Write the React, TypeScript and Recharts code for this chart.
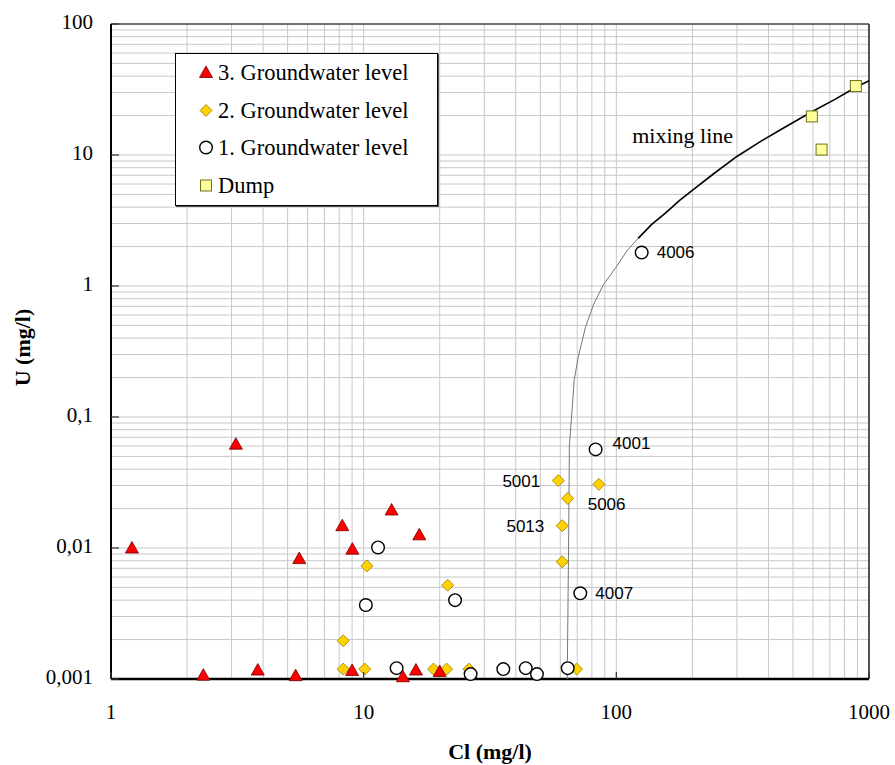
import React from "react";
import {
  ScatterChart,
  Scatter,
  XAxis,
  YAxis,
  CartesianGrid,
  ReferenceLine,
  Label,
} from "recharts";

const serif = "'Liberation Serif', 'Times New Roman', serif";
const sans = "'Liberation Sans', Arial, sans-serif";

// axis ticks (log decades + minor grid values)
const xTicks = [
  1, 2, 3, 4, 5, 6, 7, 8, 9, 10, 20, 30, 40, 50, 60, 70, 80, 90, 100, 200,
  300, 400, 500, 600, 700, 800, 900, 1000,
];
const xMajor = [1, 10, 100, 1000];
const xMajorLabels = ["1", "10", "100", "1000"];

const yTicks = [
  0.001, 0.002, 0.003, 0.004, 0.005, 0.006, 0.007, 0.008, 0.009, 0.01, 0.02,
  0.03, 0.04, 0.05, 0.06, 0.07, 0.08, 0.09, 0.1, 0.2, 0.3, 0.4, 0.5, 0.6, 0.7,
  0.8, 0.9, 1, 2, 3, 4, 5, 6, 7, 8, 9, 10, 20, 30, 40, 50, 60, 70, 80, 90, 100,
];
const yMajor = [0.001, 0.01, 0.1, 1, 10, 100];
const yMajorLabels = ["0,001", "0,01", "0,1", "1", "10", "100"];

// 3. Groundwater level
const level3 = [
  { cl: 1.21, u: 0.01 },
  { cl: 3.12, u: 0.062 },
  { cl: 5.56, u: 0.0083 },
  { cl: 8.23, u: 0.0148 },
  { cl: 9.02, u: 0.0098 },
  { cl: 12.9, u: 0.0195 },
  { cl: 16.6, u: 0.0126 },
  { cl: 2.32, u: 0.00107 },
  { cl: 3.81, u: 0.00117 },
  { cl: 5.38, u: 0.00106 },
  { cl: 9.0, u: 0.00116 },
  { cl: 14.3, u: 0.00104 },
  { cl: 16.1, u: 0.00117 },
  { cl: 20.0, u: 0.00114 },
];

// 2. Groundwater level
const level2 = [
  { cl: 10.3, u: 0.0073 },
  { cl: 21.5, u: 0.0052 },
  { cl: 8.3, u: 0.00196 },
  { cl: 8.3, u: 0.00119 },
  { cl: 10.1, u: 0.00119 },
  { cl: 18.9, u: 0.00119 },
  { cl: 21.3, u: 0.00119 },
  { cl: 26.1, u: 0.00119 },
  { cl: 58.9, u: 0.0327 },
  { cl: 85.3, u: 0.0306 },
  { cl: 64.2, u: 0.0239 },
  { cl: 61.1, u: 0.0148 },
  { cl: 61.1, u: 0.00785 },
  { cl: 69.6, u: 0.00119 },
];

// 1. Groundwater level
const level1 = [
  { cl: 11.4, u: 0.0101 },
  { cl: 10.2, u: 0.00367 },
  { cl: 23.0, u: 0.004 },
  { cl: 13.5, u: 0.00121 },
  { cl: 26.5, u: 0.00109 },
  { cl: 82.8, u: 0.0566 },
  { cl: 72.0, u: 0.00451 },
  { cl: 35.7, u: 0.00119 },
  { cl: 43.8, u: 0.00121 },
  { cl: 48.5, u: 0.00109 },
  { cl: 64.2, u: 0.00121 },
  { cl: 126, u: 1.8 },
];

const dump = [
  { cl: 887, u: 33.6 },
  { cl: 594, u: 19.7 },
  { cl: 649, u: 11.0 },
];

// mixing line
const mixingLower = [
  { cl: 63.9, u: 0.001 },
  { cl: 64.3, u: 0.003 },
  { cl: 64.7, u: 0.0097 },
  { cl: 65.2, u: 0.061 },
  { cl: 66.5, u: 0.1 },
  { cl: 68.1, u: 0.191 },
  { cl: 70.7, u: 0.288 },
  { cl: 75.6, u: 0.489 },
  { cl: 81.1, u: 0.716 },
  { cl: 88.8, u: 1.02 },
  { cl: 100, u: 1.4 },
  { cl: 110, u: 1.85 },
  { cl: 122, u: 2.31 },
];
const mixingUpper = [
  { cl: 122, u: 2.31 },
  { cl: 138, u: 2.95 },
  { cl: 156, u: 3.59 },
  { cl: 178, u: 4.5 },
  { cl: 201, u: 5.41 },
  { cl: 242, u: 7.16 },
  { cl: 299, u: 9.7 },
  { cl: 370, u: 12.6 },
  { cl: 457, u: 16.0 },
  { cl: 594, u: 21.4 },
  { cl: 733, u: 26.6 },
  { cl: 887, u: 32.9 },
  { cl: 1000, u: 36.9 },
];

const wellLabels = [
  { cl: 126, u: 1.8, text: "4006", side: "right" },
  { cl: 82.8, u: 0.0566, text: "4001", side: "upperRight" },
  { cl: 72.0, u: 0.00451, text: "4007", side: "right" },
  { cl: 58.9, u: 0.0327, text: "5001", side: "left" },
  { cl: 61.1, u: 0.0148, text: "5013", side: "left" },
  { cl: 64.2, u: 0.0239, text: "5006", side: "lowerRight" },
];
const mixingLabel = [{ cl: 183, u: 14.2, text: "mixing line" }];

const labelOffsets: Record<string, [number, number, string]> = {
  right: [15, 0, "start"],
  upperRight: [17, -6, "start"],
  lowerRight: [20, 6, "start"],
  left: [-18, 1, "end"],
};

const Triangle = ({ cx, cy }: any) =>
  cx == null ? <g /> : (
    <polygon
      points={`${cx},${cy - 6.5} ${cx + 6.5},${cy + 5} ${cx - 6.5},${cy + 5}`}
      fill="#ff0000"
      stroke="#6e0000"
      strokeWidth={0.8}
    />
  );

const Diamond = ({ cx, cy }: any) =>
  cx == null ? <g /> : (
    <polygon
      points={`${cx},${cy - 6} ${cx + 6},${cy} ${cx},${cy + 6} ${cx - 6},${cy}`}
      fill="#ffd200"
      stroke="#9a7800"
      strokeWidth={0.8}
    />
  );

const Ring = ({ cx, cy }: any) =>
  cx == null ? <g /> : (
    <circle cx={cx} cy={cy} r={6.3} fill="#fff" stroke="#000" strokeWidth={1.4} />
  );

const Square = ({ cx, cy }: any) =>
  cx == null ? <g /> : (
    <rect
      x={cx - 5.5}
      y={cy - 5.5}
      width={11}
      height={11}
      fill="#ffff99"
      stroke="#6e6e1e"
      strokeWidth={1}
    />
  );

const WellLabel = ({ cx, cy, payload }: any) => {
  if (cx == null) return <g />;
  const [dx, dy, anchor] = labelOffsets[payload.side];
  return (
    <text
      x={cx + dx}
      y={cy + dy}
      textAnchor={anchor as any}
      dominantBaseline="central"
      fontFamily={sans}
      fontSize={17}
      fill="#000"
    >
      {payload.text}
    </text>
  );
};

const MixingText = ({ cx, cy, payload }: any) =>
  cx == null ? <g /> : (
    <text
      x={cx}
      y={cy}
      textAnchor="middle"
      dominantBaseline="central"
      fontFamily={serif}
      fontSize={22}
      fill="#000"
    >
      {payload.text}
    </text>
  );

const NoDot = () => <g />;

const XTick = ({ x, y, payload }: any) => {
  const i = xMajor.indexOf(payload.value);
  if (i < 0) return <g />;
  return (
    <g>
      <line x1={x} x2={x} y1={y} y2={y - 7} stroke="#333" strokeWidth={1.2} />
      <text
        x={x}
        y={y + 33}
        textAnchor="middle"
        dominantBaseline="central"
        fontFamily={serif}
        fontSize={21}
        fill="#000"
      >
        {xMajorLabels[i]}
      </text>
    </g>
  );
};

const YTick = ({ x, y, payload }: any) => {
  const i = yMajor.indexOf(payload.value);
  if (i < 0) return <g />;
  return (
    <g>
      <line x1={x} x2={x + 8} y1={y} y2={y} stroke="#333" strokeWidth={1.2} />
      <text
        x={x - 18}
        y={y - 2}
        textAnchor="end"
        dominantBaseline="central"
        fontFamily={serif}
        fontSize={21}
        fill="#000"
      >
        {yMajorLabels[i]}
      </text>
    </g>
  );
};

const legendItems = [
  { name: "3. Groundwater level", Icon: Triangle },
  { name: "2. Groundwater level", Icon: Diamond },
  { name: "1. Groundwater level", Icon: Ring },
  { name: "Dump", Icon: Square },
];

function ChartLegend() {
  return (
    <div
      style={{
        position: "absolute",
        left: 175,
        top: 53,
        width: 263,
        height: 153,
        background: "#fff",
        border: "1px solid #000",
        boxShadow: "1px 1px 0 #555",
        boxSizing: "border-box",
      }}
    >
      {legendItems.map(({ name, Icon }) => (
        <div
          key={name}
          style={{ height: 37.5, display: "flex", alignItems: "center" }}
        >
          <svg width={42} height={37} style={{ display: "block" }}>
            <Icon cx={30} cy={18.5} />
          </svg>
          <span
            style={{
              fontFamily: serif,
              fontSize: 22.5,
              color: "#000",
              lineHeight: "37px",
            }}
          >
            {name}
          </span>
        </div>
      ))}
    </div>
  );
}

export default function App() {
  return (
    <div
      style={{
        position: "absolute",
        left: 0,
        top: 0,
        width: 895,
        height: 765,
        background: "#fff",
      }}
    >
      <ScatterChart
        width={895}
        height={765}
        margin={{ top: 24, right: 26, bottom: 0, left: 0 }}
      >
        <CartesianGrid stroke="#c8c8c8" strokeWidth={1} />
        <XAxis
          type="number"
          dataKey="cl"
          scale="log"
          domain={[1, 1000]}
          ticks={xTicks}
          interval={0}
          tick={<XTick />}
          tickLine={false}
          tickSize={0}
          tickMargin={0}
          axisLine={{ stroke: "#000", strokeWidth: 2.5 }}
          height={86}
        >
          <Label
            content={({ viewBox }: any) => (
              <text
                x={viewBox.x + viewBox.width / 2}
                y={viewBox.y + 72}
                textAnchor="middle"
                dominantBaseline="central"
                fontFamily={serif}
                fontWeight="bold"
                fontSize={22}
                fill="#000"
              >
                Cl (mg/l)
              </text>
            )}
          />
        </XAxis>
        <YAxis
          type="number"
          dataKey="u"
          scale="log"
          domain={[0.001, 100]}
          ticks={yTicks}
          interval={0}
          tick={<YTick />}
          tickLine={false}
          tickSize={0}
          tickMargin={0}
          axisLine={{ stroke: "#000", strokeWidth: 2 }}
          width={111}
        >
          <Label
            content={({ viewBox }: any) => {
              const cx = viewBox.x + 22;
              const cy = viewBox.y + viewBox.height / 2 - 4;
              return (
                <text
                  x={cx}
                  y={cy}
                  transform={`rotate(-90 ${cx} ${cy})`}
                  textAnchor="middle"
                  dominantBaseline="central"
                  fontFamily={serif}
                  fontWeight="bold"
                  fontSize={22}
                  fill="#000"
                >
                  U (mg/l)
                </text>
              );
            }}
          />
        </YAxis>
        <ReferenceLine y={100} stroke="#000" strokeWidth={1.2} />
        <ReferenceLine x={1000} stroke="#222" strokeWidth={1.5} />
        <Scatter
          name="mixing line lower"
          data={mixingLower}
          line={{ stroke: "#777", strokeWidth: 1 }}
          lineType="joint"
          shape={<NoDot />}
          isAnimationActive={false}
        />
        <Scatter
          name="mixing line"
          data={mixingUpper}
          line={{ stroke: "#000", strokeWidth: 1.6 }}
          lineType="joint"
          shape={<NoDot />}
          isAnimationActive={false}
        />
        <Scatter
          name="2. Groundwater level"
          data={level2}
          shape={<Diamond />}
          isAnimationActive={false}
        />
        <Scatter
          name="1. Groundwater level"
          data={level1}
          shape={<Ring />}
          isAnimationActive={false}
        />
        <Scatter
          name="3. Groundwater level"
          data={level3}
          shape={<Triangle />}
          isAnimationActive={false}
        />
        <Scatter
          name="Dump"
          data={dump}
          shape={<Square />}
          isAnimationActive={false}
        />
        <Scatter
          name="well labels"
          data={wellLabels}
          shape={<WellLabel />}
          isAnimationActive={false}
        />
        <Scatter
          name="mixing label"
          data={mixingLabel}
          shape={<MixingText />}
          isAnimationActive={false}
        />
      </ScatterChart>
      <ChartLegend />
    </div>
  );
}
